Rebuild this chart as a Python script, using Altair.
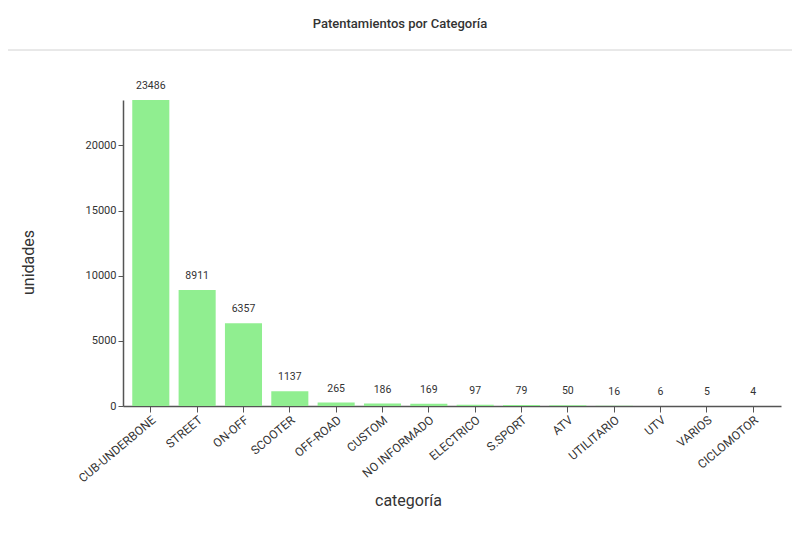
import altair as alt
import pandas as pd

categories = ["CUB-UNDERBONE", "STREET", "ON-OFF", "SCOOTER", "OFF-ROAD", "CUSTOM",
              "NO INFORMADO", "ELECTRICO", "S.SPORT", "ATV", "UTILITARIO", "UTV",
              "VARIOS", "CICLOMOTOR"]
values = [23486, 8911, 6357, 1137, 265, 186, 169, 97, 79, 50, 16, 6, 5, 4]
y_ticks = [0, 5000, 10000, 15000, 20000]

df = pd.DataFrame({"categoria": categories, "unidades": values})

FONT = "Roboto"
W, H = 658, 306

x = alt.X("categoria:N", sort=categories,
          scale=alt.Scale(paddingInner=0.2, paddingOuter=0.2),
          axis=alt.Axis(title="categoría", labelAngle=-40, labelFontSize=12,
                        labelColor="#333", labelFont=FONT, titleFont=FONT,
                        titleFontSize=16, titleFontWeight="normal", titleColor="#333",
                        titleX=285, titleY=94, titleBaseline="middle",
                        domainColor="#555", tickColor="#555", tickSize=6,
                        domainWidth=1.5))
y = alt.Y("unidades:Q",
          scale=alt.Scale(domain=[0, max(values)], nice=False),
          axis=alt.Axis(title="unidades", values=y_ticks, format="d",
                        grid=False, labelFontSize=11, labelColor="#333",
                        labelFont=FONT, titleFont=FONT, titleFontSize=16,
                        titleFontWeight="normal", titleColor="#333",
                        titleX=-95, titleY=162, titleAngle=-90,
                        titleBaseline="middle",
                        domainColor="#555", tickColor="#555", tickSize=5,
                        domainWidth=1.5))

bars = alt.Chart(df).mark_bar(color="#90EE90").encode(x=x, y=y)
labels = alt.Chart(df).mark_text(baseline="bottom", dy=-9, fontSize=10.5,
                                 color="#333", font=FONT).encode(
    x=alt.X("categoria:N", sort=categories),
    y="unidades:Q",
    text="unidades:Q")
sep = alt.Chart(df).mark_rule(color="#e8e8e8", strokeWidth=1).encode(
    x=alt.value(-115), x2=alt.value(669), y=alt.value(-50))

chart = alt.layer(sep, bars, labels).properties(
    width=W, height=H,
    autosize=alt.AutoSizeParams(type="none"),
    padding={"left": 115, "top": 92, "right": 11, "bottom": 120},
    title=alt.TitleParams("Patentamientos por Categoría", font=FONT, fontSize=13,
                          fontWeight=500, color="#333", anchor="middle",
                          frame="group", dx=-52, offset=13, baseline="middle"),
).configure_view(stroke=None)

chart.save("out.html", embed_options={"renderer": "svg", "actions": False})
